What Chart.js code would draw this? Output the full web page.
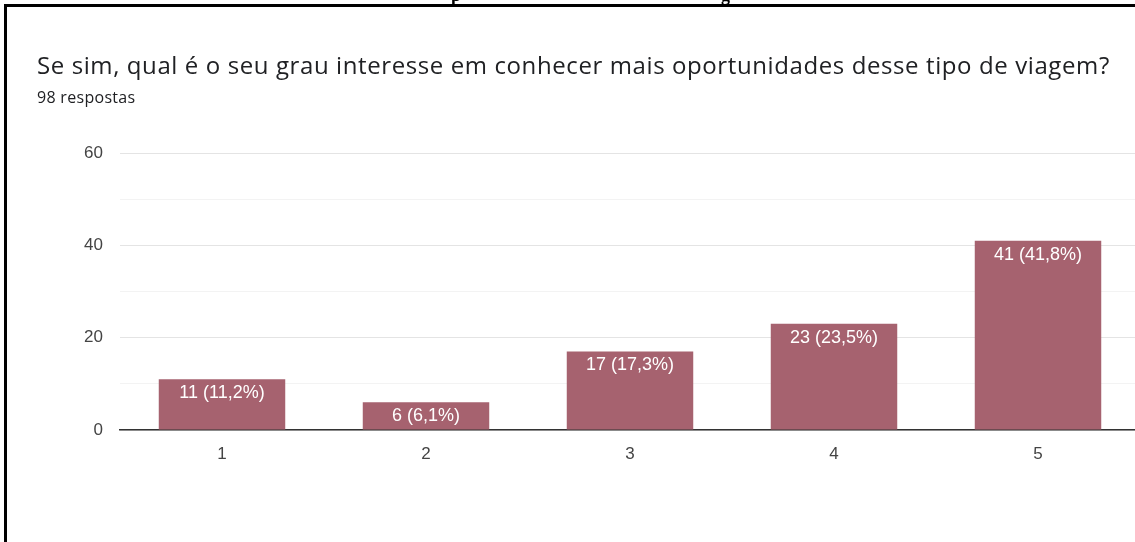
<!DOCTYPE html>
<html>
<head>
<meta charset="utf-8">
<script src="https://cdn.jsdelivr.net/npm/chart.js@4/dist/chart.umd.min.js"></script>
<style>
  html, body { margin: 0; padding: 0; background: #ffffff; overflow: hidden; width: 1135px; height: 542px; }
  #frame { position: absolute; left: 4px; top: 4px; width: 1140px; height: 600px; border-top: 3px solid #000; border-left: 3px solid #000; box-sizing: border-box; z-index: 3; }
  .cut { position: absolute; font-family: "Liberation Serif", serif; font-weight: bold; font-size: 18px; line-height: 20px; height: 20px; top: -15.5px; color: #000; z-index: 2; }
  #title { position: absolute; left: 37px; top: 48px; font-family: "Open Sans", Roboto, sans-serif; font-size: 24px; letter-spacing: 0.6px; color: #202124; white-space: nowrap; z-index: 2; }
  #subtitle { position: absolute; left: 37px; top: 86px; font-family: "Open Sans", Roboto, sans-serif; font-size: 16px; letter-spacing: 0.3px; color: #202124; white-space: nowrap; z-index: 2; }
  #wrap { position: absolute; left: 0; top: 0; width: 1140px; height: 542px; z-index: 1; }
</style>
</head>
<body>
<div class="cut" style="left:451px;">p</div>
<div class="cut" style="left:721px;">g</div>
<div id="frame"></div>
<div id="title">Se sim, qual é o seu grau interesse em conhecer mais oportunidades desse tipo de viagem?</div>
<div id="subtitle">98 respostas</div>
<div id="wrap"><canvas id="c" width="1140" height="542"></canvas></div>
<script>
const categories = ['1', '2', '3', '4', '5'];
const counts = [11, 6, 17, 23, 41];
const percents = ['11,2%', '6,1%', '17,3%', '23,5%', '41,8%'];
const yMajorTicks = [0, 20, 40, 60];

const barLabels = {
  id: 'barLabels',
  afterDatasetsDraw(chart) {
    const ctx = chart.ctx;
    const meta = chart.getDatasetMeta(0);
    ctx.save();
    ctx.font = '18px "Liberation Sans", Arial, sans-serif';
    ctx.fillStyle = '#ffffff';
    ctx.textAlign = 'center';
    ctx.textBaseline = 'middle';
    meta.data.forEach((bar, i) => {
      ctx.fillText(counts[i] + ' (' + percents[i] + ')', bar.x, bar.y + 14);
    });
    ctx.restore();
  }
};

new Chart(document.getElementById('c'), {
  type: 'bar',
  data: {
    labels: categories,
    datasets: [{
      data: counts,
      backgroundColor: '#a6626f',
      borderWidth: 0,
      categoryPercentage: 0.62,
      barPercentage: 1.0
    }]
  },
  options: {
    responsive: false,
    devicePixelRatio: 1,
    animation: false,
    layout: { padding: { left: 0, top: 153, right: 0, bottom: 72 } },
    plugins: { legend: { display: false }, tooltip: { enabled: false } },
    scales: {
      x: {
        grid: { display: false },
        border: { color: '#333333', width: 1.5 },
        ticks: { color: '#444444', font: { family: '"Liberation Sans", Arial', size: 17 }, padding: 6 },
        afterFit(scale) { scale.height = 40; }
      },
      y: {
        min: 0,
        max: 60,
        border: { display: false },
        grid: {
          drawTicks: false,
          color: (c) => (yMajorTicks.includes(c.tick.value) ? '#e4e4e4' : '#f3f3f3'),
          lineWidth: 1
        },
        ticks: {
          stepSize: 10,
          color: '#444444',
          font: { family: '"Liberation Sans", Arial', size: 17 },
          padding: 17,
          callback: (v) => (yMajorTicks.includes(v) ? String(v) : '')
        },
        afterFit(scale) { scale.width = 120; }
      }
    }
  },
  plugins: [barLabels]
});
</script>
</body>
</html>
